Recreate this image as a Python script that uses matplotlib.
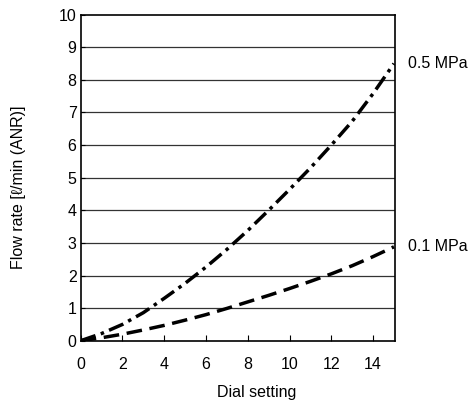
import matplotlib
matplotlib.use("Agg")
import matplotlib.pyplot as plt
import numpy as np

plt.rcParams['font.family'] = ['Liberation Sans', 'DejaVu Sans']

dial = [0, 1, 2, 3, 4, 5, 6, 7, 8, 9, 10, 11, 12, 13, 14, 15]
flow_05 = [0, 0.22, 0.5, 0.86, 1.3, 1.76, 2.26, 2.8, 3.38, 4.0, 4.64, 5.3, 6.0, 6.73, 7.58, 8.5]
flow_01 = [0, 0.09, 0.2, 0.33, 0.47, 0.63, 0.8, 0.99, 1.19, 1.39, 1.6, 1.82, 2.05, 2.3, 2.58, 2.88]
series_labels = ["0.5 MPa", "0.1 MPa"]
xticks = [0, 2, 4, 6, 8, 10, 12, 14]
yticks = list(range(0, 11))

FS = 11.5

fig = plt.figure(figsize=(4.74, 4.03), dpi=100)
L, R, T, B = 80.7, 395.0, 14.7, 340.7
ax = fig.add_axes([L/474, 1 - B/403, (R - L)/474, (B - T)/403])

x = np.array(dial, dtype=float)
ax.plot(x, flow_05, color='black', lw=2.5, dashes=(4.5, 1.6, 1.0, 1.6), dash_capstyle='butt')
ax.plot(x, flow_01, color='black', lw=2.5, dashes=(4.5, 2.2), dash_capstyle='butt')

for yv in yticks[1:-1]:
    ax.axhline(yv, color='#333333', lw=0.9, zorder=0)

ax.set_xlim(0, 15.05)
ax.set_ylim(0, 10)
ax.set_xticks(xticks)
ax.set_yticks(yticks)
ax.tick_params(axis='x', direction='in', length=4, width=0.8, labelsize=FS, pad=12.0)
ax.tick_params(axis='y', direction='in', length=3, width=0.8, labelsize=FS, pad=3)
for s in ax.spines.values():
    s.set_linewidth(1.2)

ax.set_xlabel("Dial setting", fontsize=FS)
ax.set_ylabel("Flow rate [ℓ/min (ANR)]", fontsize=FS)
ax.xaxis.set_label_coords((257 - L)/(R - L), -(385 - B)/(B - T))
ax.yaxis.set_label_coords(-(L - 26)/(R - L), 1 - (187.5 - T)/(B - T))

ax.annotate(series_labels[0], xy=(1.0, flow_05[-1]), xycoords=('axes fraction', 'data'),
            xytext=(9.5, 0), textcoords='offset points', fontsize=FS, va='center', ha='left')
ax.annotate(series_labels[1], xy=(1.0, flow_01[-1]), xycoords=('axes fraction', 'data'),
            xytext=(9.5, 0), textcoords='offset points', fontsize=FS, va='center', ha='left')

fig.savefig("out.png", dpi=100)
